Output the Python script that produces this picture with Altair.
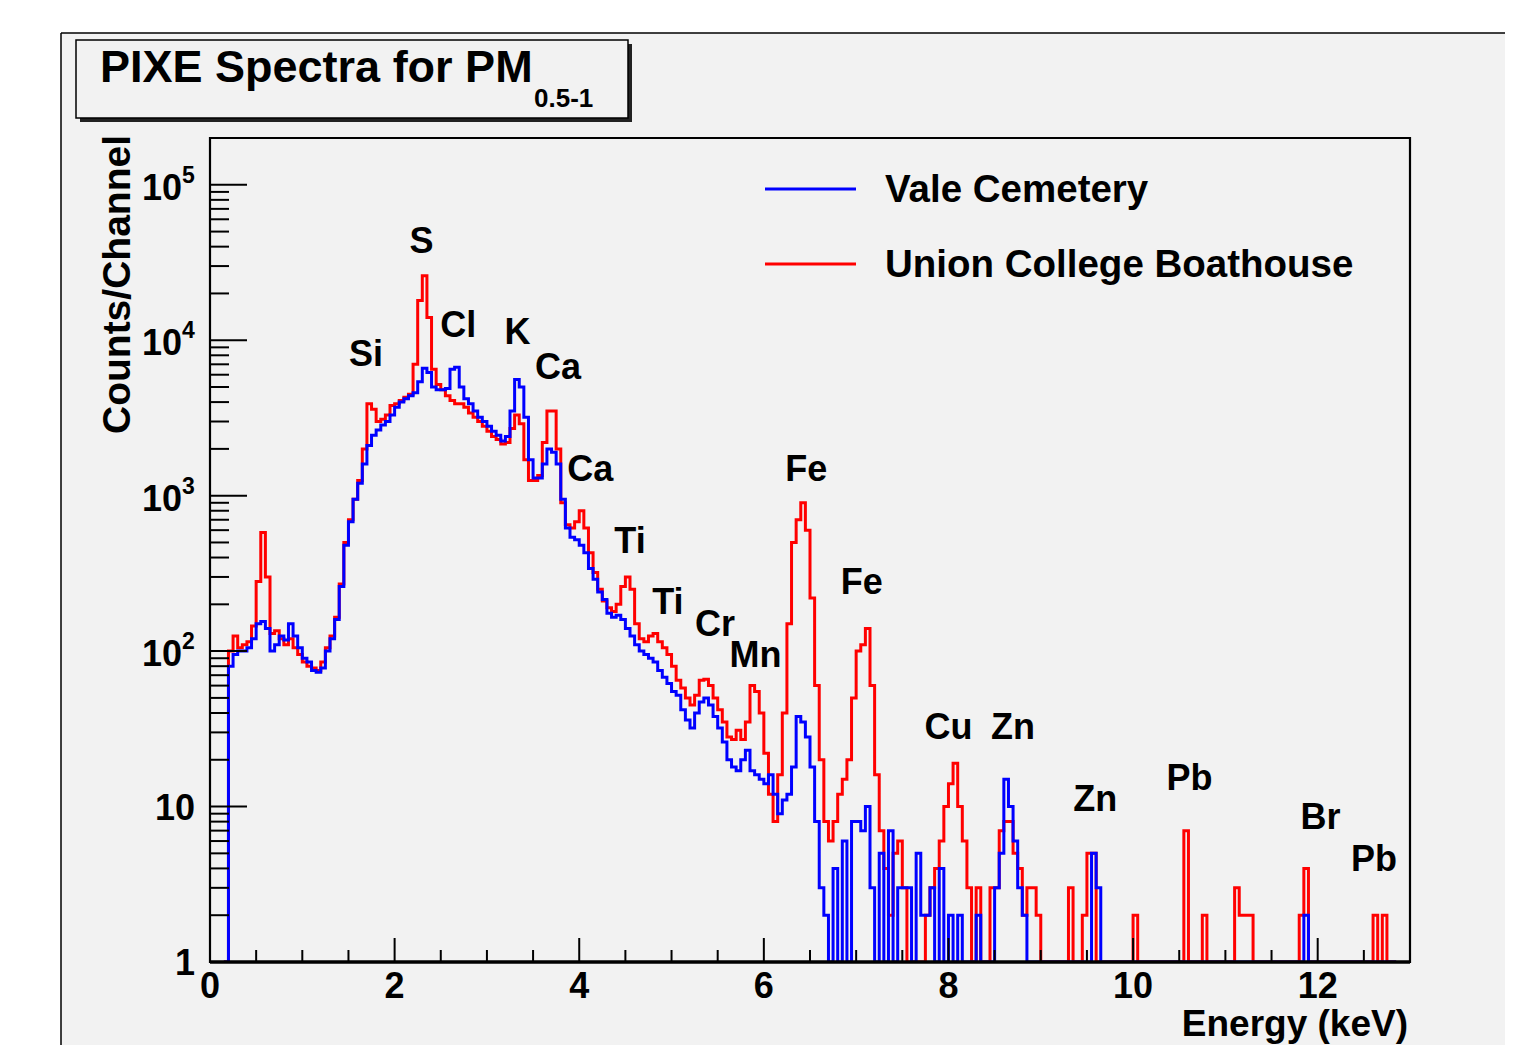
import altair as alt
import pandas as pd

# ---------------- data ----------------
# Histogram bins: left edges start at 0.15 keV, width 0.05 keV
BIN_START = 0.15
BIN_WIDTH = 0.05

# Union College Boathouse (red), counts per channel, one value per bin
RED = [
    1,
    100, 125, 105, 110, 115, 145, 280, 580, 300, 130,        # 0.20-0.65
    135, 120, 110, 120, 105, 95, 85, 80, 78, 75,             # 0.70-1.15
    85, 105, 125, 165, 270, 500, 700, 950, 1250, 2000,       # 1.20-1.65
    3900, 3600, 3000, 3100, 3300, 3800, 3900, 4100, 4300, 4500,   # 1.70-2.15
    7000, 18000, 26000, 14000, 6500, 5200, 4800, 4400, 4100, 3900,  # 2.20-2.65
    3900, 3700, 3400, 3200, 3000, 2800, 2600, 2400, 2300, 2150,   # 2.70-3.15
    2200, 2700, 3300, 2900, 1700, 1250, 1250, 1350, 2200, 3500,   # 3.20-3.65
    3500, 2000, 900, 650, 620, 680, 800, 620, 430, 320,      # 3.70-4.15
    250, 210, 190, 180, 200, 260, 300, 250, 150, 120,        # 4.20-4.65
    115, 125, 130, 115, 105, 95, 80, 65, 58, 50,             # 4.70-5.15
    45, 52, 65, 66, 60, 50, 42, 35, 28, 27,                  # 5.20-5.65
    31, 27, 35, 60, 55, 40, 22, 12, 8, 16,                   # 5.70-6.15
    40, 150, 500, 700, 900, 600, 220, 60, 20, 8,             # 6.20-6.65
    6, 8, 12, 15, 20, 50, 100, 110, 140, 60,                 # 6.70-7.15
    16, 7, 4, 2, 5, 6, 3, 1, 1, 1,                           # 7.20-7.65
    1, 2, 3, 4, 6, 10, 14, 19, 10, 6,                        # 7.70-8.15
    3, 1, 3, 1, 1, 3, 3, 7, 8, 8,                            # 8.20-8.65
    5, 4, 2, 3, 3, 2, 1, 1, 1, 1,                            # 8.70-9.15
    1, 1, 3, 1, 1, 2, 5, 5, 1, 1,                            # 9.20-9.65
    1, 1, 1, 1, 1, 1, 2, 1, 1, 1,                            # 9.70-10.15
    1, 1, 1, 1, 1, 1, 1, 7, 1, 1,                            # 10.20-10.65
    1, 2, 1, 1, 1, 1, 1, 1, 3, 2,                            # 10.70-11.15
    2, 2, 1, 1, 1, 1, 1, 1, 1, 1,                            # 11.20-11.65
    1, 1, 2, 4, 1, 1, 1, 1, 1, 1,                            # 11.70-12.15
    1, 1, 1, 1, 1, 1, 1, 1, 2, 1,                            # 12.20-12.65
    2, 1, 1,                                                 # 12.70-12.80
    1,
]

# Vale Cemetery (blue)
BLUE = [
    1,
    80, 95, 100, 100, 105, 120, 150, 155, 140, 100,          # 0.20-0.65
    110, 125, 118, 150, 125, 105, 90, 85, 75, 73,            # 0.70-1.15
    78, 100, 120, 160, 260, 480, 680, 950, 1200, 1600,       # 1.20-1.65
    2100, 2450, 2650, 2850, 3000, 3300, 3700, 4000, 4200, 4400,   # 1.70-2.15
    4600, 5400, 6600, 6200, 5000, 4800, 4800, 4900, 6500, 6700,   # 2.20-2.65
    5000, 4200, 3900, 3500, 3200, 3000, 2800, 2600, 2450, 2250,   # 2.70-3.15
    2400, 3500, 5600, 5000, 3200, 1700, 1300, 1300, 1600, 2000,   # 3.20-3.65
    1900, 1600, 950, 620, 540, 520, 480, 430, 340, 290,      # 3.70-4.15
    240, 215, 175, 165, 170, 160, 140, 125, 110, 100,        # 4.20-4.65
    95, 90, 85, 75, 68, 62, 55, 52, 42, 36,                  # 4.70-5.15
    32, 40, 47, 50, 45, 38, 32, 26, 20, 18,                  # 5.20-5.65
    17, 20, 23, 17, 16, 15, 14, 16, 12, 9,                   # 5.70-6.15
    11, 12, 18, 38, 35, 28, 18, 8, 3, 2,                     # 6.20-6.65
    1, 4, 1, 6, 1, 8, 8, 7, 10, 3,                           # 6.70-7.15
    1, 5, 1, 7, 1, 3, 3, 3, 1, 5,                            # 7.20-7.65
    2, 2, 3, 1, 4, 1, 2, 1, 2, 1,                            # 7.70-8.15
    1, 1, 2, 1, 1, 1, 3, 5, 15, 10,                          # 8.20-8.65
    6, 3, 2, 1, 1, 1, 1, 1, 1, 1,                            # 8.70-9.15
    1, 1, 1, 1, 1, 1, 1, 5, 3, 1,                            # 9.20-9.65
    1, 1, 1, 1, 1, 1, 1, 1, 1, 1,                            # 9.70-10.15
    1, 1, 1, 1, 1, 1, 1, 1, 1, 1,                            # 10.20-10.65
    1, 1, 1, 1, 1, 1, 1, 1, 1, 1,                            # 10.70-11.15
    1, 1, 1, 1, 1, 1, 1, 1, 1, 1,                            # 11.20-11.65
    1, 1, 1, 2, 1, 1, 1, 1, 1, 1,                            # 11.70-12.15
    1, 1, 1, 1, 1, 1, 1, 1, 1, 1,                            # 12.20-12.65
    1, 1, 1,                                                 # 12.70-12.80
    1,
]

SERIES = ["Vale Cemetery", "Union College Boathouse"]
COLORS = ["#0000ff", "#ff0000"]

# peak annotations: element, energy (keV), counts level of the label
ELEMENTS = ["Si", "S", "Cl", "K", "Ca", "Ca", "Ti", "Ti", "Cr", "Mn",
            "Fe", "Fe", "Cu", "Zn", "Zn", "Pb", "Br", "Pb"]
EL_ENERGY = [1.69, 2.29, 2.69, 3.33, 3.77, 4.12, 4.55, 4.96, 5.47, 5.91,
             6.46, 7.06, 8.00, 8.70, 9.59, 10.61, 12.03, 12.61]
EL_COUNTS = [8000, 42700, 12300, 11100, 6600, 1460, 500, 204, 147, 93,
             1460, 274, 32, 32, 11, 15, 8.4, 4.5]

X_TICK_LABELS = [0, 2, 4, 6, 8, 10, 12]
X_MINOR = [0.5, 1, 1.5, 2.5, 3, 3.5, 4.5, 5, 5.5, 6.5, 7, 7.5, 8.5, 9, 9.5,
           10.5, 11, 11.5, 12.5]
Y_MAJOR = [1, 10, 100, 1000, 10000, 100000]
Y_EXP = ["", "", "2", "3", "4", "5"]
Y_MINOR = [m * d for d in [1, 10, 100, 1000, 10000] for m in range(2, 10)] + [200000]

assert len(RED) == len(BLUE)

# ---------------- build tables ----------------
rows = []
for name, vals in [("red", RED), ("blue", BLUE)]:
    for i, v in enumerate(vals):
        rows.append({"E": round(BIN_START + BIN_WIDTH * i, 2), "c": v, "s": name, "i": i})
hist = pd.DataFrame(rows)

FONT = "Liberation Sans"
W, H = 1200, 824
XS = alt.Scale(domain=[0, 13], nice=False, zero=False)
YS = alt.Scale(type="log", domain=[1, 200000], nice=False)
one = pd.DataFrame({"k": [0]})


def px_rect(x, x2, y, y2, **kw):
    return alt.Chart(one).mark_rect(**kw).encode(
        x=alt.value(x), x2=alt.value(x2), y=alt.value(y), y2=alt.value(y2))


def px_text(txt, x, y, size, align="left", baseline="middle", angle=0, dy=0):
    return alt.Chart(one).mark_text(
        font=FONT, fontWeight="bold", fontSize=size, align=align,
        baseline=baseline, angle=angle, dy=dy, color="black"
    ).encode(x=alt.value(x), y=alt.value(y), text=alt.value(txt))


layers = []
# ROOT canvas
layers.append(px_rect(-149, 1295, -105, 907, color="#f2f2f2"))
layers.append(alt.Chart(one).mark_rule(color="black", strokeWidth=1.5).encode(
    x=alt.value(-149), x2=alt.value(1295), y=alt.value(-105)))
layers.append(alt.Chart(one).mark_rule(color="black", strokeWidth=1.5).encode(
    x=alt.value(-149), y=alt.value(-105), y2=alt.value(907)))

# title box with shadow
layers.append(px_rect(-130, 422, -94, -16, color="#222222"))
layers.append(px_rect(-134, 418, -98, -20, fill="#f2f2f2", stroke="black", strokeWidth=1.5))
layers.append(px_text("PIXE Spectra for PM", -110, -56, 45, baseline="alphabetic"))
layers.append(px_text("0.5-1", 324, -31, 26, baseline="alphabetic"))

# spectra: red below, blue on top
for name, col in [("red", "#ff0000"), ("blue", "#0000ff")]:
    layers.append(
        alt.Chart(hist[hist.s == name]).mark_line(
            interpolate="step-after", strokeWidth=3, color=col, clip=True
        ).encode(
            x=alt.X("E:Q", scale=XS, axis=None),
            y=alt.Y("c:Q", scale=YS, axis=None),
            order=alt.Order("i:Q"),
        )
    )

# frame
layers.append(px_rect(0, W, 0, H, fillOpacity=0, stroke="black", strokeWidth=2.2))
layers.append(alt.Chart(one).mark_rule(color="black", strokeWidth=3.4).encode(
    x=alt.value(0), x2=alt.value(W), y=alt.value(H)))

# y ticks
layers.append(alt.Chart(pd.DataFrame({"v": Y_MAJOR})).mark_rule(color="black", strokeWidth=2).encode(
    y=alt.Y("v:Q", scale=YS, axis=None), x=alt.value(0), x2=alt.value(37)))
layers.append(alt.Chart(pd.DataFrame({"v": Y_MINOR})).mark_rule(color="black", strokeWidth=2).encode(
    y=alt.Y("v:Q", scale=YS, axis=None), x=alt.value(0), x2=alt.value(19)))
# x ticks
layers.append(alt.Chart(pd.DataFrame({"v": X_TICK_LABELS})).mark_rule(color="black", strokeWidth=2).encode(
    x=alt.X("v:Q", scale=XS, axis=None), y=alt.value(H), y2=alt.value(H - 24)))
layers.append(alt.Chart(pd.DataFrame({"v": X_MINOR})).mark_rule(color="black", strokeWidth=2).encode(
    x=alt.X("v:Q", scale=XS, axis=None), y=alt.value(H), y2=alt.value(H - 12)))

# x tick labels
layers.append(alt.Chart(pd.DataFrame({"v": X_TICK_LABELS})).mark_text(
    font=FONT, fontWeight="bold", fontSize=36, baseline="middle", align="center", color="black"
).encode(x=alt.X("v:Q", scale=XS, axis=None), y=alt.value(H + 25), text=alt.Text("v:Q")))

# y tick labels
ylab = pd.DataFrame({"v": Y_MAJOR, "exp": Y_EXP,
                     "base": ["1" if v == 1 else "10" for v in Y_MAJOR]})
plain = ylab[ylab.exp == ""]
power = ylab[ylab.exp != ""]
layers.append(alt.Chart(plain).mark_text(
    font=FONT, fontWeight="bold", fontSize=36, baseline="middle", align="right", dy=2, color="black"
).encode(y=alt.Y("v:Q", scale=YS, axis=None), x=alt.value(-15), text="base:N"))
layers.append(alt.Chart(power).mark_text(
    font=FONT, fontWeight="bold", fontSize=36, baseline="middle", align="right", dy=4, color="black"
).encode(y=alt.Y("v:Q", scale=YS, axis=None), x=alt.value(-28), text="base:N"))
layers.append(alt.Chart(power).mark_text(
    font=FONT, fontWeight="bold", fontSize=23, baseline="middle", align="left", dy=-9, color="black"
).encode(y=alt.Y("v:Q", scale=YS, axis=None), x=alt.value(-28), text="exp:N"))

# axis titles
layers.append(px_text("Counts/Channel", -92, -3, 39, align="right", angle=270))
layers.append(px_text("Energy (keV)", 1198, 898, 37, align="right", baseline="alphabetic"))

# legend
leg_y = [51, 126]
for (name, col, yy) in [(SERIES[0], COLORS[0], leg_y[0]), (SERIES[1], COLORS[1], leg_y[1])]:
    layers.append(alt.Chart(one).mark_rule(color=col, strokeWidth=3).encode(
        x=alt.value(555), x2=alt.value(646), y=alt.value(yy)))
    layers.append(px_text(name, 675, yy + 1, 38.5))

# element labels
el = pd.DataFrame({"el": ELEMENTS, "E": EL_ENERGY, "c": EL_COUNTS})
layers.append(alt.Chart(el).mark_text(
    font=FONT, fontWeight="bold", fontSize=36, baseline="middle", align="center", color="black"
).encode(x=alt.X("E:Q", scale=XS, axis=None), y=alt.Y("c:Q", scale=YS, axis=None), text="el:N"))

chart = alt.layer(*layers).properties(
    width=W, height=H,
    autosize=alt.AutoSizeParams(type="none"),
    padding={"left": 202, "top": 130, "right": 95, "bottom": 83},
    background="white",
).configure_view(stroke=None, fill=None)

chart.save("out.html", embed_options={"renderer": "svg", "actions": False})
